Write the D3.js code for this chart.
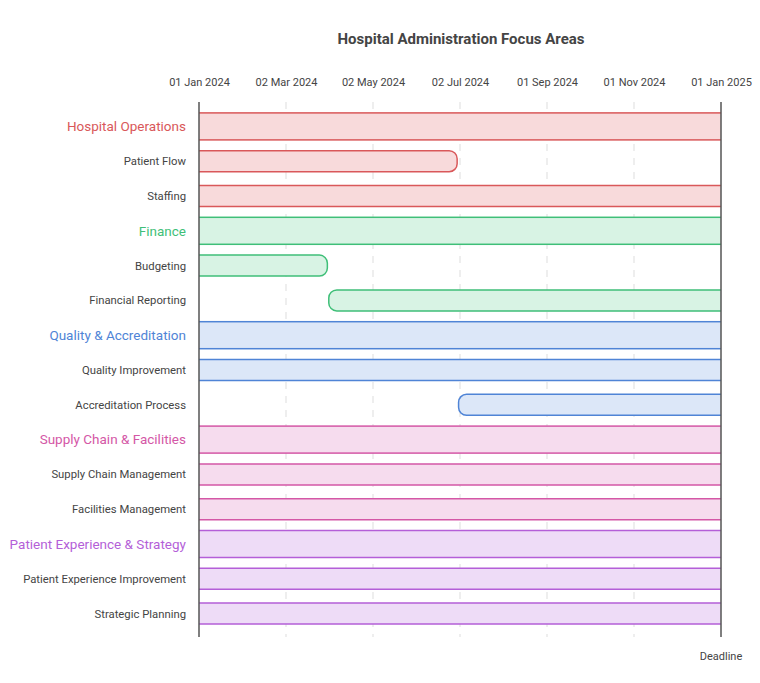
<!DOCTYPE html>
<html>
<head>
<meta charset="utf-8">
<script src="https://cdn.jsdelivr.net/npm/d3@7"></script>
<style>
    body { margin: 0; background: #fff; }
    svg text { font-family: Roboto, "Noto Sans", sans-serif; }
</style>
</head>
<body>
<svg id="gantt" width="760" height="683"></svg>
<script>
// rows top to bottom
var rowNames = [
    'Hospital Operations', 'Patient Flow', 'Staffing',
    'Finance', 'Budgeting', 'Financial Reporting',
    'Quality & Accreditation', 'Quality Improvement', 'Accreditation Process',
    'Supply Chain & Facilities', 'Supply Chain Management', 'Facilities Management',
    'Patient Experience & Strategy', 'Patient Experience Improvement', 'Strategic Planning'
];
var rowIsGroup = [1, 0, 0, 1, 0, 0, 1, 0, 0, 1, 0, 0, 1, 0, 0];
var rowGroup = [0, 0, 0, 1, 1, 1, 2, 2, 2, 3, 3, 3, 4, 4, 4];
var rowStart = [
    '2024-01-01', '2024-01-01', '2024-01-01',
    '2024-01-01', '2024-01-01', '2024-04-01',
    '2024-01-01', '2024-01-01', '2024-07-01',
    '2024-01-01', '2024-01-01', '2024-01-01',
    '2024-01-01', '2024-01-01', '2024-01-01'
];
var rowEnd = [
    '2025-01-01', '2024-06-30', '2025-01-01',
    '2025-01-01', '2024-03-31', '2025-01-01',
    '2025-01-01', '2025-01-01', '2025-01-01',
    '2025-01-01', '2025-01-01', '2025-01-01',
    '2025-01-01', '2025-01-01', '2025-01-01'
];
var groupStroke = ['#d9585a', '#3fbf78', '#4f84d6', '#d457a6', '#b45fd8'];
var groupFill = ['#f8dadb', '#d8f3e4', '#dce7f8', '#f6dcee', '#eedcf7'];
var tickDates = ['2024-01-01', '2024-03-02', '2024-05-02', '2024-07-02', '2024-09-01', '2024-11-01', '2025-01-01'];
var domainStart = '2024-01-01', domainEnd = '2025-01-01';
var deadlineLabel = 'Deadline';
var title = 'Hospital Administration Focus Areas';

var parse = d3.utcParse('%Y-%m-%d');
var fmt = d3.utcFormat('%d %b %Y');

var svg = d3.select('#gantt');
var margin = { top: 102, right: 39, bottom: 46, left: 199 }
    , width = svg.attr('width') - margin.left - margin.right
    , height = svg.attr('height') - margin.top - margin.bottom;

var xScale = d3.scaleUtc()
    .domain([parse(domainStart), parse(domainEnd)])
    .range([0, width]);

var yScale = d3.scaleBand()
    .domain(rowNames)
    .range([7, height - 6])
    .padding(0);

svg.append('text')
    .attr('x', 461)
    .attr('y', 44)
    .style('text-anchor', 'middle')
    .style('font-size', '15px')
    .style('font-weight', 'bold')
    .attr('fill', '#444')
    .text(title);

var g = svg.append('g')
    .attr('transform', `translate(${margin.left},${margin.top})`);

// top axis labels
g.append('g')
    .attr('transform', 'translate(0,-13)')
    .call(d3.axisTop(xScale).tickValues(tickDates.map(parse)).tickFormat(fmt).tickSize(0))
    .call(a => a.select('.domain').remove())
    .selectAll('text')
    .attr('fill', '#444')
    .style('font-size', '11px');

// dashed grid
g.append('g')
    .selectAll('line')
    .data(tickDates.slice(1, -1).map(parse))
    .enter()
    .append('line')
    .attr('x1', d => xScale(d))
    .attr('x2', d => xScale(d))
    .attr('y1', 0)
    .attr('y2', height)
    .attr('stroke', '#ddd')
    .attr('stroke-dasharray', '7,7');

g.append('clipPath')
    .attr('id', 'plot-clip')
    .append('rect')
    .attr('x', 0).attr('y', 0)
    .attr('width', width).attr('height', height);

var bars = g.append('g').attr('clip-path', 'url(#plot-clip)');
var r = 8;

rowNames.forEach(function (name, i) {
    var grp = rowIsGroup[i];
    var bh = grp ? 27 : 21;
    var x0 = xScale(parse(rowStart[i]));
    var x1 = xScale(parse(rowEnd[i]));
    // ends on the domain edge are cut flat by the clip
    if (x0 <= 0) x0 -= r + 2;
    if (x1 >= width) x1 += r + 2;
    if (grp) { x0 = -r - 2; x1 = width + r + 2; }
    var yc = yScale(name) + yScale.bandwidth() / 2;
    bars.append('rect')
        .attr('x', x0)
        .attr('y', yc - bh / 2)
        .attr('width', x1 - x0)
        .attr('height', bh)
        .attr('rx', grp ? 0 : r)
        .attr('fill', groupFill[rowGroup[i]])
        .attr('stroke', groupStroke[rowGroup[i]])
        .attr('stroke-width', 1.5);

    g.append('text')
        .attr('x', -13)
        .attr('y', yc)
        .attr('dy', '0.35em')
        .style('text-anchor', 'end')
        .style('font-size', grp ? '13.5px' : '11.3px')
        .attr('fill', grp ? groupStroke[rowGroup[i]] : '#444')
        .text(name);
});

// start axis and deadline lines
g.append('line')
    .attr('x1', 0).attr('x2', 0)
    .attr('y1', 0).attr('y2', height)
    .attr('stroke', '#555')
    .attr('stroke-width', 1.5);
g.append('line')
    .attr('x1', xScale(parse(domainEnd))).attr('x2', xScale(parse(domainEnd)))
    .attr('y1', 0).attr('y2', height)
    .attr('stroke', '#555')
    .attr('stroke-width', 1.5);
g.append('text')
    .attr('x', xScale(parse(domainEnd)))
    .attr('y', height + 23)
    .style('text-anchor', 'middle')
    .style('font-size', '11px')
    .attr('fill', '#444')
    .text(deadlineLabel);
</script>
</body>
</html>
